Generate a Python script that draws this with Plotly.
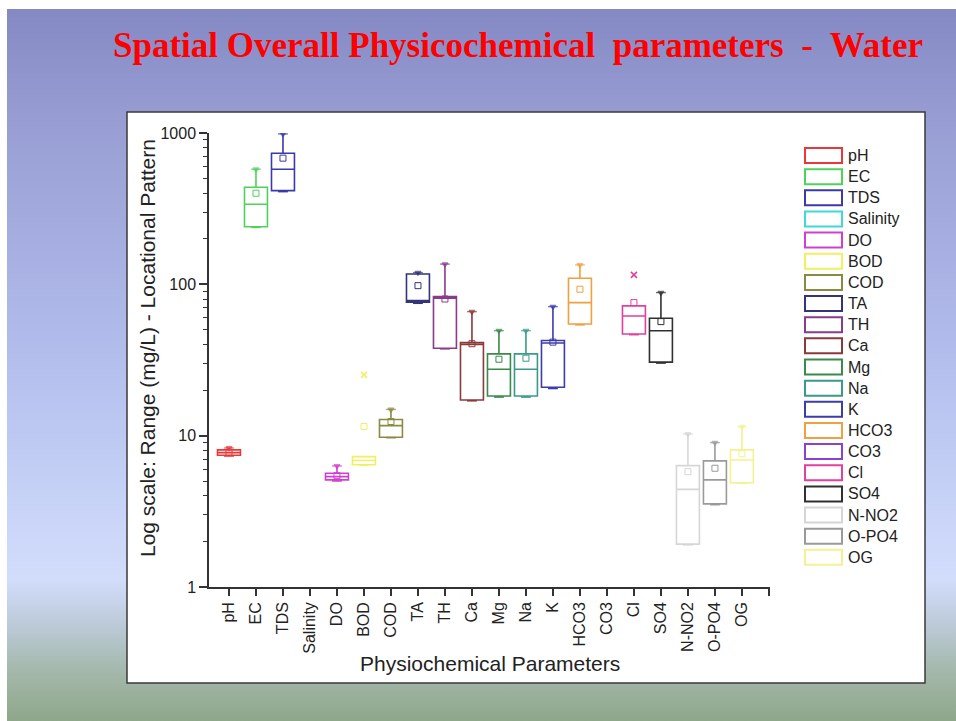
import base64
import plotly.graph_objects as go

# Parameters along the x axis (Origin-style box chart, log y axis)
names = ['pH', 'EC', 'TDS', 'Salinity', 'DO', 'BOD', 'COD', 'TA', 'TH', 'Ca',
         'Mg', 'Na', 'K', 'HCO3', 'CO3', 'Cl', 'SO4', 'N-NO2', 'O-PO4', 'OG']
colors = ['#e8383a', '#4fd25a', '#3a3aaa', '#40d8d8', '#d040d0', '#f0f060',
          '#8a8a40', '#34347a', '#8a3c8a', '#8a3a3a', '#3a8a4a', '#3a9a8a',
          '#3c3caa', '#f0a040', '#8a40d0', '#e040a0', '#303030', '#d6d6d6',
          '#9a9a9a', '#f2f290']

# Box statistics (mg/L); None where no measurements were recorded
q1 = [7.42, 240, 416, None, 5.10, 6.43, 9.76, 76.2, 37.8, 17.2,
      18.3, 18.3, 20.9, 54.7, None, 47.0, 30.6, 1.92, 3.54, 4.89]
median = [7.72, 338, 576, None, 5.36, 6.85, 11.65, 78.0, 81.0, 40.0,
          27.5, 27.5, 41.0, 75.7, None, 61.8, 49.4, 4.42, 5.10, 6.91]
q3 = [8.05, 438, 735, None, 5.64, 7.27, 12.8, 117, 83, 41.2,
      34.7, 34.7, 42.5, 109.7, None, 72, 59.7, 6.34, 6.81, 8.05]
minimum = [7.34, 238, 410, None, 5.02, 6.40, 9.70, 75, 37.5, 17.0,
           18.0, 18.0, 20.5, 54.0, None, 46.5, 30.2, 1.90, 3.50, 4.85]
maximum = [8.29, 576, 986, None, 6.31, 7.27, 14.9, 119.5, 136, 66,
           49.4, 49.4, 71.2, 134.4, None, 72, 88.2, 10.26, 8.99, 11.47]
mean = [7.75, 400, 682, None, 5.44, 11.5, 12.4, 98, 80, 40.5,
        32.0, 32.5, 41.5, 92.8, None, 75.7, 56.7, 5.78, 6.09, 7.6]
outlier_param = ['BOD', 'Cl']
outlier_value = [25.2, 115.4]

# Figure geometry (pixels)
W, H = 956, 721
L, R, T, B = 209, 770, 133, 587
pw, ph = R - L, B - T


def px_x(x):
    return (x - L) / pw


def px_y(y):
    return (B - y) / ph


fig = go.Figure()

for i, n in enumerate(names):
    if q1[i] is None:
        continue
    c = colors[i]
    fig.add_trace(go.Box(
        x=[i], q1=[q1[i]], median=[median[i]], q3=[q3[i]],
        lowerfence=[minimum[i]], upperfence=[maximum[i]],
        width=0.85, whiskerwidth=0, boxpoints=False,
        line=dict(color=c, width=1.6), fillcolor='rgba(0,0,0,0)',
        name=n, showlegend=False))
    # mean (open square)
    fig.add_trace(go.Scatter(
        x=[i], y=[mean[i]], mode='markers', showlegend=False,
        marker=dict(symbol='square-open', size=6, color=c, line=dict(width=1))))
    # maximum (small down-triangle with dash) where a whisker exists
    if maximum[i] > q3[i]:
        fig.add_trace(go.Scatter(
            x=[i, i], y=[maximum[i], maximum[i]], mode='markers', showlegend=False,
            marker=dict(symbol=['triangle-down', 'line-ew'], size=[5, 7], color=c,
                        line=dict(width=1.4, color=c))))
    # minimum (dash)
    fig.add_trace(go.Scatter(
        x=[i], y=[minimum[i]], mode='markers', showlegend=False,
        marker=dict(symbol='line-ew', size=7, color=c, line=dict(width=1.6, color=c))))

for n, v in zip(outlier_param, outlier_value):
    i = names.index(n)
    fig.add_trace(go.Scatter(
        x=[i], y=[v], mode='markers', showlegend=False,
        marker=dict(symbol='x-thin', size=6, color=colors[i],
                    line=dict(width=1.6, color=colors[i]))))

# Slide background: vertical gradient
stops = [(0.00, '#8489c4'), (0.15, '#979dd2'), (0.50, '#b4bfee'),
         (0.80, '#d2ddfc'), (0.865, '#bccad8'), (0.93, '#a4b8ab'),
         (1.00, '#8ea78a')]
stop_xml = ''.join(f'<stop offset="{o}" stop-color="{c}"/>' for o, c in stops)
svg = ('<svg xmlns="http://www.w3.org/2000/svg" width="949" height="712" '
       'preserveAspectRatio="none"><defs><linearGradient id="g" x1="0" y1="0" '
       f'x2="0" y2="1">{stop_xml}</linearGradient></defs>'
       '<rect width="949" height="712" fill="url(#g)"/></svg>')
src = 'data:image/svg+xml;base64,' + base64.b64encode(svg.encode()).decode()

fig.add_layout_image(dict(
    source=src, xref='paper', yref='paper',
    x=px_x(7), y=px_y(9), sizex=(W - 7) / pw, sizey=(H - 9) / ph,
    xanchor='left', yanchor='top', sizing='stretch', layer='below'))

shapes = [dict(type='rect', xref='paper', yref='paper', layer='below',
               x0=px_x(127), x1=px_x(925), y0=px_y(683), y1=px_y(112),
               fillcolor='white', line=dict(color='#3a3a3a', width=1.5))]

annotations = [
    dict(text='Spatial Overall Physicochemical  parameters  -  Water',
         xref='paper', yref='paper', x=px_x(518), y=px_y(46),
         showarrow=False, xanchor='center', yanchor='middle',
         font=dict(family='Liberation Serif', size=35, color='#ff0000', weight='bold')),
    dict(text='Physiochemical Parameters', xref='paper', yref='paper',
         x=0.5, y=px_y(663), showarrow=False, xanchor='center', yanchor='middle',
         font=dict(family='Liberation Sans', size=21, color='#222')),
    dict(text='Log scale: Range (mg/L) - Locational Pattern', xref='paper',
         yref='paper', x=px_x(147), y=px_y(348), textangle=-90, showarrow=False,
         xanchor='center', yanchor='middle',
         font=dict(family='Liberation Sans', size=21, color='#222')),
]

# Legend: outlined swatch + label per parameter
leg_top, leg_step = 155.5, 21.15
for k, (n, c) in enumerate(zip(names, colors)):
    yc = leg_top + k * leg_step
    shapes.append(dict(type='rect', xref='paper', yref='paper',
                       x0=px_x(805), x1=px_x(842), y0=px_y(yc + 7.5), y1=px_y(yc - 7.5),
                       line=dict(color=c, width=2), fillcolor='rgba(0,0,0,0)'))
    annotations.append(dict(text=n, xref='paper', yref='paper', x=px_x(846),
                            y=px_y(yc), xanchor='left', yanchor='middle',
                            showarrow=False,
                            font=dict(family='Liberation Sans', size=16, color='#222')))

fig.update_layout(
    width=W, height=H,
    margin=dict(l=L, r=W - R, t=T, b=H - B, pad=0),
    paper_bgcolor='white', plot_bgcolor='rgba(0,0,0,0)',
    boxmode='overlay', showlegend=False,
    shapes=shapes, annotations=annotations,
    xaxis=dict(range=[-0.74, 20.04], tickvals=list(range(21)),
               ticktext=names + [''], tickangle=-90, ticks='outside', ticklen=7,
               tickwidth=1.5, tickcolor='#333', showline=True, linecolor='#333',
               linewidth=1.5, showgrid=False, zeroline=False,
               tickfont=dict(family='Liberation Sans', size=16, color='#222')),
    yaxis=dict(type='log', range=[0, 3], tickvals=[1, 10, 100, 1000],
               ticktext=['1', '10', '100', '1000'], ticks='outside', ticklen=8,
               tickwidth=1.5, tickcolor='#333', showline=True, linecolor='#333',
               linewidth=1.5, showgrid=False, zeroline=False,
               minor=dict(tickvals=[m * 10 ** d for d in range(3) for m in range(2, 10)],
                          ticks='outside', ticklen=4, tickwidth=1.2, tickcolor='#333',
                          showgrid=False),
               tickfont=dict(family='Liberation Sans', size=16, color='#222')),
)

fig.write_html('out.html')
